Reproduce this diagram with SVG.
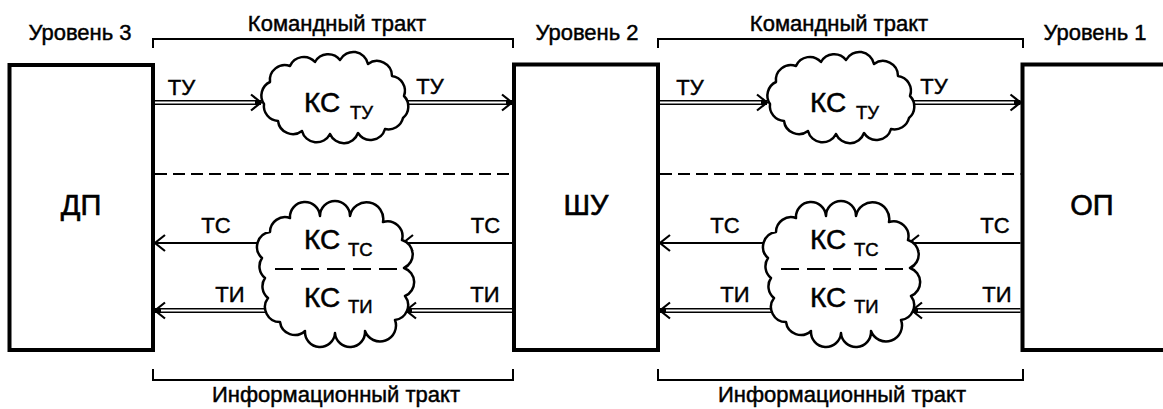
<svg xmlns="http://www.w3.org/2000/svg" width="1163" height="409" viewBox="0 0 1163 409">
<style>
text{font-family:"Liberation Sans",Arial,sans-serif;fill:#000;stroke:#000;stroke-width:0.45}
.lbl{font-size:22px}
.big{font-size:29px;text-anchor:middle;stroke-width:0.6}
.ks{font-size:28px;stroke-width:0.5}
.sub{font-size:18.5px}
.mid{text-anchor:middle}
.box{fill:#fff;stroke:#000;stroke-width:4}
.cloud{fill:#fff;stroke:#000;stroke-width:2.5;stroke-linejoin:round}
.brk{fill:none;stroke:#000;stroke-width:2}
.dash{stroke:#000;stroke-width:2.2;stroke-dasharray:12 6;fill:none}
.idash{stroke:#000;stroke-width:2.2;stroke-dasharray:18 8;fill:none}
.single{stroke:#000;stroke-width:2;fill:none}
.dblb{stroke:#000;stroke-width:5;fill:none}
.dblw{stroke:#fff;stroke-width:1.8;fill:none}
</style>
<defs>
<marker id="ah" markerUnits="userSpaceOnUse" markerWidth="16" markerHeight="20" refX="13" refY="10" orient="auto">
<path d="M3,2 L13,10 L3,18" fill="none" stroke="#000" stroke-width="2.2"/>
</marker>
<path id="cloudTop" d="M264,104 A15,15 0 0 1 270,82 A15,15 0 0 1 290,66 A15,15 0 0 1 315,62 A15,15 0 0 1 340,60 A15,15 0 0 1 368,64 A15,15 0 0 1 392,76 A15,15 0 0 1 404,96 A15,15 0 0 1 403,118 A15,15 0 0 1 385,129 A15,15 0 0 1 358,133 A15,15 0 0 1 330,134 A15,15 0 0 1 302,131 A15,15 0 0 1 278,121 A15,15 0 0 1 264,104 Z"/>
<path id="cloudBot" d="M262,258 A15,15 0 0 1 270,232 A15,15 0 0 1 290,218 A15,15 0 0 1 320,216 A15,15 0 0 1 350,216 A15,15 0 0 1 383,222 A15,15 0 0 1 402,240 A15,15 0 0 1 404,268 A15,15 0 0 1 405,296 A15,15 0 0 1 395,320 A15,15 0 0 1 365,331 A15,15 0 0 1 335,333 A15,15 0 0 1 305,331 A15,15 0 0 1 280,322 A15,15 0 0 1 268,298 A15,15 0 0 1 265,278 A15,15 0 0 1 262,258 Z"/>
</defs>

<g id="labels">
<text class="lbl mid" x="80" y="40">Уровень 3</text>
<text class="lbl mid" x="587" y="40">Уровень 2</text>
<text class="lbl mid" x="1095" y="40">Уровень 1</text>
<text class="lbl mid" x="337" y="31">Командный тракт</text>
<text class="lbl mid" x="839" y="31">Командный тракт</text>
<text class="lbl mid" x="336" y="402">Информационный тракт</text>
<text class="lbl mid" x="842" y="402">Информационный тракт</text>
</g>

<g id="brackets">
<path class="brk" d="M153,48 V39 H513 V48"/>
<path class="brk" d="M658,48 V39 H1023 V48"/>
<path class="brk" d="M153,369 V380 H513 V369"/>
<path class="brk" d="M658,369 V380 H1023 V369"/>
</g>

<g id="connectors">
<!-- section 1 -->
<path class="dblb" d="M155,102.5 H261" marker-end="url(#ah)"/>
<path class="dblw" d="M155,102.5 H255"/>
<path class="dblb" d="M380,102.5 H512" marker-end="url(#ah)"/>
<path class="dblw" d="M380,102.5 H506"/>
<line class="dash" x1="155" y1="174" x2="512" y2="174"/>
<path class="single" d="M300,243 H155" marker-end="url(#ah)"/>
<path class="single" d="M512,243 H403" marker-end="url(#ah)"/>
<path class="dblb" d="M300,310.5 H155" marker-end="url(#ah)"/>
<path class="dblw" d="M300,310.5 H161"/>
<path class="dblb" d="M512,310.5 H406" marker-end="url(#ah)"/>
<path class="dblw" d="M512,310.5 H412"/>
<!-- section 2 -->
<path class="dblb" d="M660,102.5 H767" marker-end="url(#ah)"/>
<path class="dblw" d="M660,102.5 H761"/>
<path class="dblb" d="M886,102.5 H1020.5" marker-end="url(#ah)"/>
<path class="dblw" d="M886,102.5 H1014"/>
<line class="dash" x1="660" y1="174" x2="1020.5" y2="174"/>
<path class="single" d="M806,243 H660" marker-end="url(#ah)"/>
<path class="single" d="M1020.5,243 H909" marker-end="url(#ah)"/>
<path class="dblb" d="M806,310.5 H660" marker-end="url(#ah)"/>
<path class="dblw" d="M806,310.5 H666"/>
<path class="dblb" d="M1020.5,310.5 H912" marker-end="url(#ah)"/>
<path class="dblw" d="M1020.5,310.5 H918"/>
</g>

<g id="connector-labels">
<text class="lbl mid" x="181.5" y="95">ТУ</text>
<text class="lbl mid" x="430" y="94">ТУ</text>
<text class="lbl mid" x="216" y="233">ТС</text>
<text class="lbl mid" x="485.5" y="233">ТС</text>
<text class="lbl mid" x="230" y="302">ТИ</text>
<text class="lbl mid" x="485" y="302">ТИ</text>
<text class="lbl mid" x="690" y="95">ТУ</text>
<text class="lbl mid" x="934" y="94">ТУ</text>
<text class="lbl mid" x="725" y="233">ТС</text>
<text class="lbl mid" x="995" y="233">ТС</text>
<text class="lbl mid" x="735" y="302">ТИ</text>
<text class="lbl mid" x="997" y="302">ТИ</text>
</g>

<g id="node-dp">
<rect class="box" x="9.5" y="65" width="143.5" height="285"/>
<text class="big" x="81" y="215">ДП</text>
</g>
<g id="node-shu">
<rect class="box" x="514" y="64.5" width="144" height="285.5"/>
<text class="big" x="586" y="215">ШУ</text>
</g>
<g id="node-op">
<rect class="box" x="1022.5" y="64.5" width="150" height="285.5"/>
<text class="big" x="1092" y="215">ОП</text>
</g>

<g id="node-ks-tu-1">
<use href="#cloudTop" class="cloud"/>
<text class="ks" x="304" y="112">КС</text><text class="sub" x="350" y="119">ТУ</text>
</g>
<g id="node-ks-ts-ti-1">
<use href="#cloudBot" class="cloud"/>
<line class="idash" x1="275" y1="269" x2="398" y2="269"/>
<text class="ks" x="304" y="249">КС</text><text class="sub" x="348" y="256">ТС</text>
<text class="ks" x="304" y="307">КС</text><text class="sub" x="348" y="313">ТИ</text>
</g>
<g id="node-ks-tu-2" transform="translate(506,0)">
<use href="#cloudTop" class="cloud"/>
<text class="ks" x="304" y="112">КС</text><text class="sub" x="350" y="119">ТУ</text>
</g>
<g id="node-ks-ts-ti-2" transform="translate(506,0)">
<use href="#cloudBot" class="cloud"/>
<line class="idash" x1="275" y1="269" x2="398" y2="269"/>
<text class="ks" x="304" y="249">КС</text><text class="sub" x="348" y="256">ТС</text>
<text class="ks" x="304" y="307">КС</text><text class="sub" x="348" y="313">ТИ</text>
</g>
</svg>
